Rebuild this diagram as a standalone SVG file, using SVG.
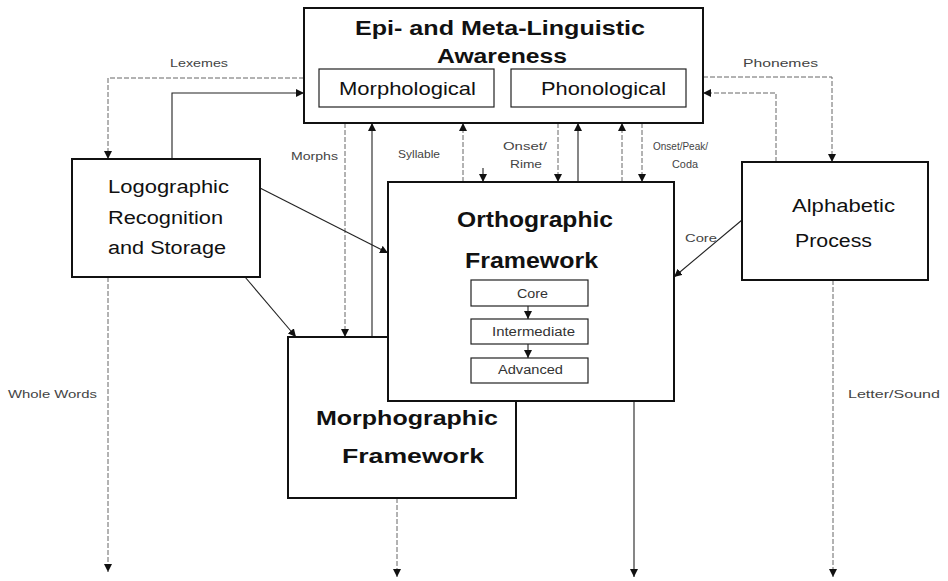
<svg xmlns="http://www.w3.org/2000/svg" width="948" height="581" viewBox="0 0 948 581">
<defs>
<marker id="ah" viewBox="0 0 10 10" refX="10" refY="5" markerWidth="8" markerHeight="8" markerUnits="userSpaceOnUse" orient="auto">
<path d="M0,0 L10,5 L0,10 z" fill="#111"/>
</marker>
<style>
.box{fill:#fff;stroke:#111;stroke-width:2}
.inner{fill:#fff;stroke:#222;stroke-width:1.2}
.ttl{font-family:"Liberation Sans",Arial,sans-serif;font-weight:bold;fill:#111}
.txt{font-family:"Liberation Sans",Arial,sans-serif;fill:#111}
.lbl{font-family:"Liberation Sans",Arial,sans-serif;font-size:11px;fill:#444}
.sm{font-family:"Liberation Sans",Arial,sans-serif;font-size:12px;fill:#333}
.c{fill:none;stroke:#222;stroke-width:1.1}
.d{fill:none;stroke:#666;stroke-width:1;stroke-dasharray:5 2}
</style>
</defs>
<rect width="948" height="581" fill="#fff"/>

<g id="connectors">
<path class="d" d="M304,78 H108 V159" marker-end="url(#ah)"/>
<path class="c" d="M172,159 V93 H304" marker-end="url(#ah)"/>
<path class="d" d="M703,77 H832 V162" marker-end="url(#ah)"/>
<path class="d" d="M776,162 V93 H703" marker-end="url(#ah)"/>
<path class="d" d="M345,123 V337" marker-end="url(#ah)"/>
<path class="c" d="M372,337 V123" marker-end="url(#ah)"/>
<path class="d" d="M463,182 V123" marker-end="url(#ah)"/>
<path class="c" d="M483,168 V182" marker-end="url(#ah)"/>
<path class="d" d="M558,123 V182" marker-end="url(#ah)"/>
<path class="c" d="M578,182 V123" marker-end="url(#ah)"/>
<path class="d" d="M622,182 V123" marker-end="url(#ah)"/>
<path class="d" d="M642,123 V182" marker-end="url(#ah)"/>
<path class="c" d="M260,188 L388,253" marker-end="url(#ah)"/>
<path class="c" d="M245,277 L296,337" marker-end="url(#ah)"/>
<path class="c" d="M742,220 L674,277" marker-end="url(#ah)"/>
<path class="d" d="M108,277 V572" marker-end="url(#ah)"/>
<path class="d" d="M397,498 V577" marker-end="url(#ah)"/>
<path class="c" d="M634,401 V577" marker-end="url(#ah)"/>
<path class="d" d="M833,280 V577" marker-end="url(#ah)"/>
<text class="lbl" x="170" y="67" textLength="58" lengthAdjust="spacingAndGlyphs">Lexemes</text>
<text class="lbl" x="743" y="67" textLength="75" lengthAdjust="spacingAndGlyphs">Phonemes</text>
<text class="lbl" x="291" y="160" textLength="47" lengthAdjust="spacingAndGlyphs">Morphs</text>
<text class="lbl" x="398" y="158" textLength="42" lengthAdjust="spacingAndGlyphs">Syllable</text>
<text class="lbl" x="503" y="150" textLength="44" lengthAdjust="spacingAndGlyphs">Onset/</text>
<text class="lbl" x="510" y="168" textLength="32" lengthAdjust="spacingAndGlyphs">Rime</text>
<text class="lbl" x="653" y="150" textLength="55" lengthAdjust="spacingAndGlyphs">Onset/Peak/</text>
<text class="lbl" x="672" y="168" textLength="26" lengthAdjust="spacingAndGlyphs">Coda</text>
<text class="lbl" x="685" y="242" textLength="32" lengthAdjust="spacingAndGlyphs">Core</text>
<text class="lbl" x="8" y="398" textLength="89" lengthAdjust="spacingAndGlyphs">Whole Words</text>
<text class="lbl" x="848" y="398" textLength="92" lengthAdjust="spacingAndGlyphs">Letter/Sound</text>
</g>

<g id="epi">
<rect class="box" x="304" y="8" width="399" height="115"/>
<text class="ttl" x="355" y="35" font-size="20" textLength="290" lengthAdjust="spacingAndGlyphs">Epi- and Meta-Linguistic</text>
<text class="ttl" x="437" y="63" font-size="20" textLength="130" lengthAdjust="spacingAndGlyphs">Awareness</text>
<g id="morphological">
<rect class="inner" x="319" y="69" width="175" height="38"/>
<text class="txt" x="339" y="95" font-size="19" textLength="137" lengthAdjust="spacingAndGlyphs">Morphological</text>
</g>
<g id="phonological">
<rect class="inner" x="511" y="69" width="175" height="38"/>
<text class="txt" x="541" y="95" font-size="19" textLength="125" lengthAdjust="spacingAndGlyphs">Phonological</text>
</g>
</g>

<g id="logographic">
<rect class="box" x="72" y="159" width="188" height="118"/>
<text class="txt" x="108" y="193" font-size="18" textLength="121" lengthAdjust="spacingAndGlyphs">Logographic</text>
<text class="txt" x="108" y="224" font-size="18" textLength="115" lengthAdjust="spacingAndGlyphs">Recognition</text>
<text class="txt" x="108" y="254" font-size="18" textLength="118" lengthAdjust="spacingAndGlyphs">and Storage</text>
</g>

<g id="alphabetic">
<rect class="box" x="742" y="162" width="186" height="118"/>
<text class="txt" x="792" y="212" font-size="18" textLength="103" lengthAdjust="spacingAndGlyphs">Alphabetic</text>
<text class="txt" x="795" y="247" font-size="18" textLength="77" lengthAdjust="spacingAndGlyphs">Process</text>
</g>

<g id="morphographic">
<rect class="box" x="288" y="337" width="228" height="161"/>
<text class="ttl" x="316" y="425" font-size="20" textLength="182" lengthAdjust="spacingAndGlyphs">Morphographic</text>
<text class="ttl" x="342" y="463" font-size="20" textLength="142" lengthAdjust="spacingAndGlyphs">Framework</text>
</g>

<g id="orthographic">
<rect class="box" x="388" y="182" width="286" height="219"/>
<text class="ttl" x="457" y="227" font-size="22" textLength="156" lengthAdjust="spacingAndGlyphs">Orthographic</text>
<text class="ttl" x="465" y="268" font-size="22" textLength="133" lengthAdjust="spacingAndGlyphs">Framework</text>
<g id="core">
<rect class="inner" x="471" y="280" width="117" height="26"/>
<text class="sm" x="517" y="298" textLength="31" lengthAdjust="spacingAndGlyphs">Core</text>
</g>
<g id="intermediate">
<rect class="inner" x="471" y="319" width="117" height="25"/>
<text class="sm" x="492" y="336" textLength="83" lengthAdjust="spacingAndGlyphs">Intermediate</text>
</g>
<g id="advanced">
<rect class="inner" x="471" y="358" width="117" height="25"/>
<text class="sm" x="498" y="374" textLength="65" lengthAdjust="spacingAndGlyphs">Advanced</text>
</g>
<path class="c" d="M528,306 V319" marker-end="url(#ah)"/>
<path class="c" d="M528,344 V358" marker-end="url(#ah)"/>
</g>
</svg>
